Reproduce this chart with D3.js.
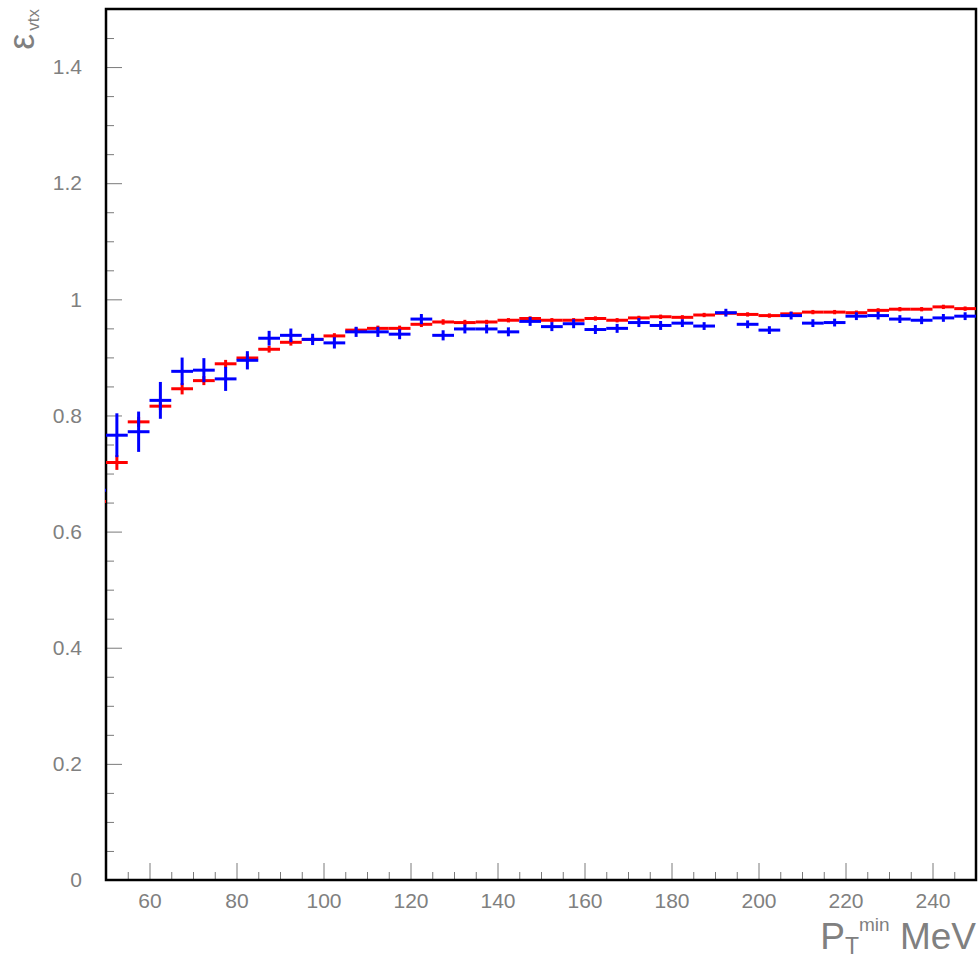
<!DOCTYPE html>
<html>
<head>
<meta charset="utf-8">
<script src="https://d3js.org/d3.v7.min.js"></script>
<style>
body { margin: 0; background: #fff; }
.tick text { fill: #808080; font-family: "Liberation Sans", Arial, sans-serif; }
.tick line { stroke: #7a7a7a; }
</style>
</head>
<body>
<svg width="978" height="959"></svg>
<script>
// bin centres (5 MeV bins), first bin lies just left of the visible range
var ptBins = [47.5, 52.5, 57.5, 62.5, 67.5, 72.5, 77.5, 82.5, 87.5, 92.5,
              97.5, 102.5, 107.5, 112.5, 117.5, 122.5, 127.5, 132.5, 137.5, 142.5,
              147.5, 152.5, 157.5, 162.5, 167.5, 172.5, 177.5, 182.5, 187.5, 192.5,
              197.5, 202.5, 207.5, 212.5, 217.5, 222.5, 227.5, 232.5, 237.5, 242.5, 247.5];
var binHalf = 2.5;

var redEff = [0.652, 0.719, 0.789, 0.816, 0.846, 0.860, 0.889, 0.899, 0.914, 0.926,
              0.931, 0.937, 0.947, 0.950, 0.950, 0.957, 0.961, 0.960, 0.961, 0.964,
              0.967, 0.964, 0.964, 0.967, 0.964, 0.968, 0.970, 0.969, 0.973, 0.976,
              0.974, 0.972, 0.975, 0.978, 0.978, 0.977, 0.981, 0.983, 0.983, 0.987, 0.984];
var redErr = [0.012, 0.011, 0.007, 0.005, 0.008, 0.006, 0.005, 0.005, 0.004, 0.004,
              0.003, 0.003, 0.003, 0.003, 0.003, 0.003, 0.003, 0.003, 0.002, 0.002,
              0.002, 0.002, 0.002, 0.002, 0.002, 0.002, 0.002, 0.002, 0.002, 0.002,
              0.002, 0.002, 0.002, 0.002, 0.002, 0.002, 0.002, 0.002, 0.002, 0.002, 0.002];

var blueEff = [0.671, 0.766, 0.772, 0.826, 0.876, 0.878, 0.863, 0.895, 0.933, 0.938,
               0.931, 0.925, 0.944, 0.944, 0.940, 0.966, 0.938, 0.949, 0.949, 0.944,
               0.962, 0.953, 0.958, 0.948, 0.950, 0.960, 0.955, 0.959, 0.954, 0.977,
               0.957, 0.947, 0.972, 0.959, 0.960, 0.971, 0.972, 0.966, 0.964, 0.968, 0.971];
var blueErr = [0.040, 0.036, 0.033, 0.030, 0.022, 0.019, 0.019, 0.014, 0.011, 0.010,
               0.008, 0.008, 0.007, 0.007, 0.007, 0.007, 0.007, 0.006, 0.006, 0.006,
               0.006, 0.006, 0.006, 0.006, 0.006, 0.006, 0.006, 0.005, 0.005, 0.005,
               0.005, 0.005, 0.005, 0.005, 0.005, 0.005, 0.005, 0.005, 0.005, 0.005, 0.005];

var xTicks = [60, 80, 100, 120, 140, 160, 180, 200, 220, 240];
var yTicks = [0, 0.2, 0.4, 0.6, 0.8, 1, 1.2, 1.4];

var svg = d3.select("svg"),
    padL = 106, padR = 976, padT = 9, padB = 880;

var x = d3.scaleLinear().domain([50, 250]).range([padL, padR]);
var y = d3.scaleLinear().domain([0, 1.5]).range([padB, padT]);

// minor ticks
var xMinor = d3.range(50, 251, 5).filter(function(v) { return v % 20 != 0; });
var yMinor = d3.range(0, 31).map(function(i) { return i * 0.05; })
    .filter(function(v) { return Math.abs(v * 5 - Math.round(v * 5)) > 1e-6; });

svg.append("g")
    .attr("transform", "translate(0," + padB + ")")
    .call(d3.axisBottom(x).tickValues(xMinor).tickSizeInner(-8).tickSizeOuter(0).tickFormat(""))
    .call(function(g) { g.select(".domain").remove(); });

svg.append("g")
    .attr("transform", "translate(" + padL + ",0)")
    .call(d3.axisLeft(y).tickValues(yMinor).tickSizeInner(-8).tickSizeOuter(0).tickFormat(""))
    .call(function(g) { g.select(".domain").remove(); });

// major ticks + labels
svg.append("g")
    .attr("transform", "translate(0," + padB + ")")
    .call(d3.axisBottom(x).tickValues(xTicks).tickSizeInner(-17).tickSizeOuter(0).tickPadding(13))
    .call(function(g) {
      g.select(".domain").remove();
      g.selectAll("text").style("font-size", "21px");
    });

svg.append("g")
    .attr("transform", "translate(" + padL + ",0)")
    .call(d3.axisLeft(y).tickValues(yTicks).tickSizeInner(-16).tickSizeOuter(0).tickPadding(24)
          .tickFormat(function(d) { return d3.format("~g")(d); }))
    .call(function(g) {
      g.select(".domain").remove();
      g.selectAll("text").style("font-size", "21px");
    });

// frame
svg.append("rect")
    .attr("x", padL).attr("y", padT)
    .attr("width", padR - padL).attr("height", padB - padT)
    .attr("fill", "none").attr("stroke", "#000").attr("stroke-width", 2.5);

svg.append("clipPath").attr("id", "plotclip")
  .append("rect")
    .attr("x", padL - 1).attr("y", 0)
    .attr("width", padR - padL + 3).attr("height", padB);

var plot = svg.append("g").attr("clip-path", "url(#plotclip)");

function drawSeries(vals, errs, colour) {
  var g = plot.append("g").attr("stroke", colour).attr("stroke-width", 3);
  g.selectAll("line.h").data(ptBins).enter().append("line")
      .attr("class", "h")
      .attr("x1", function(d) { return x(d - binHalf); })
      .attr("x2", function(d) { return x(d + binHalf); })
      .attr("y1", function(d, i) { return y(vals[i]); })
      .attr("y2", function(d, i) { return y(vals[i]); });
  g.selectAll("line.v").data(ptBins).enter().append("line")
      .attr("class", "v")
      .attr("x1", function(d) { return x(d); })
      .attr("x2", function(d) { return x(d); })
      .attr("y1", function(d, i) { return y(vals[i] - errs[i]) + 1; })
      .attr("y2", function(d, i) { return y(vals[i] + errs[i]) - 1; });
}

drawSeries(redEff, redErr, "#ff0000");
drawSeries(blueEff, blueErr, "#0000ff");

// axis titles
var xt = svg.append("text")
    .attr("x", padR).attr("y", 949)
    .attr("text-anchor", "end")
    .attr("fill", "#808080")
    .style("font-family", "'Liberation Sans', Arial, sans-serif");
xt.append("tspan").style("font-size", "37px").text("P");
xt.append("tspan").style("font-size", "23px").attr("dy", 5).text("T");
xt.append("tspan").style("font-size", "19px").attr("dy", -23).text("min");
xt.append("tspan").style("font-size", "37px").attr("dy", 18).text(" MeV");

var yt = svg.append("text")
    .attr("transform", "translate(34,9) rotate(-90)")
    .attr("text-anchor", "end")
    .attr("fill", "#808080")
    .style("font-family", "'Liberation Sans', Arial, sans-serif");
yt.append("tspan").style("font-size", "36px").text("ε");
yt.append("tspan").style("font-size", "17px").attr("dy", 5).attr("dx", 3).text("vtx");
</script>
</body>
</html>
